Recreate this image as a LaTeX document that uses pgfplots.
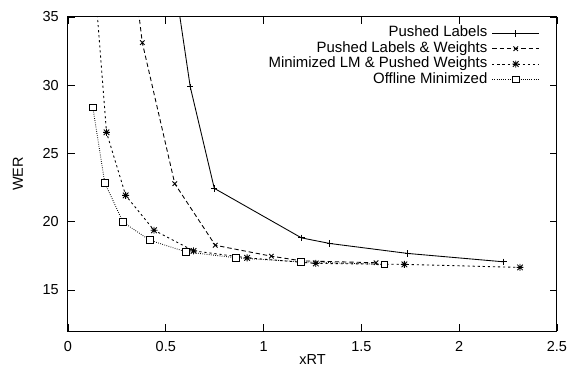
\documentclass[border=0pt]{standalone}
\usepackage{fontspec}
\setmainfont{Liberation Sans}
\usepackage{pgfplots}
\pgfplotsset{compat=1.18}
\pgfdeclareplotmark{gpstar}{%
 \pgfpathmoveto{\pgfqpoint{-\pgfplotmarksize}{0pt}}\pgfpathlineto{\pgfqpoint{\pgfplotmarksize}{0pt}}%
 \pgfpathmoveto{\pgfqpoint{0pt}{-\pgfplotmarksize}}\pgfpathlineto{\pgfqpoint{0pt}{\pgfplotmarksize}}%
 \pgfpathmoveto{\pgfqpoint{-.8\pgfplotmarksize}{-.8\pgfplotmarksize}}\pgfpathlineto{\pgfqpoint{.8\pgfplotmarksize}{.8\pgfplotmarksize}}%
 \pgfpathmoveto{\pgfqpoint{-.8\pgfplotmarksize}{.8\pgfplotmarksize}}\pgfpathlineto{\pgfqpoint{.8\pgfplotmarksize}{-.8\pgfplotmarksize}}%
 \pgfusepathqstroke}
\begin{document}
\begin{tikzpicture}
\begin{axis}[name=ax, scale only axis, width=337.4pt, height=216.7pt,
 xmin=0, xmax=2.5, ymin=12, ymax=35,
 xtick={0,0.5,1,1.5,2,2.5}, ytick={15,20,25,30,35},
 xticklabels={0,0.5,1,1.5,2,2.5}, yticklabels={15,20,25,30,35},
 /pgf/number format/assume math mode=true,
 major tick length=5pt, tick style={black, line width=0.6pt},
 axis line style={line width=0.7pt},
 xticklabel style={anchor=north, inner sep=0pt, yshift=-6.9pt},
 yticklabel style={anchor=east, inner sep=0pt, xshift=-6.2pt},
 xlabel={xRT}, ylabel={WER},
 every axis x label/.style={at={(rel axis cs:0.5,0)}, anchor=center, yshift=-19.7pt},
 every axis y label/.style={at={(rel axis cs:0,0.5)}, xshift=-34.5pt, anchor=center, rotate=90},
 legend plot pos=right, legend cell align=right,
 legend image code/.code={\draw[mark repeat=2,mark phase=2,#1] plot coordinates {(0cm,0cm) (0.57cm,0cm) (1.14cm,0cm)};},
 legend style={draw=none, fill=none, at={(rel axis cs:1,1)}, anchor=north east, xshift=-11.7pt, yshift=-6pt, inner sep=0pt, row sep=0.4pt, column sep=3pt,
   font=\fontsize{10.3}{12}\selectfont,
   nodes={text height=0.75em, text depth=0.25em, inner sep=0.1pt}},
 every axis plot/.append style={black, line width=0.6pt, mark options={solid}},
]
\addplot[solid, mark=+, mark size=2.2pt] coordinates {(0.5,42) (0.625,29.89) (0.748,22.45) (1.194,18.82) (1.339,18.41) (1.738,17.68) (2.226,17.07)};
\addlegendentry{Pushed Labels}
\addplot[dash pattern=on 3pt off 2pt, mark=x, mark size=2.2pt] coordinates {(0.33,39) (0.38,33.12) (0.546,22.79) (0.753,18.28) (1.04,17.48) (1.194,17.14) (1.575,17.0)};
\addlegendentry{Pushed Labels \& Weights}
\addplot[dash pattern=on 1.5pt off 2pt, mark=gpstar, mark size=2.4pt] coordinates {(0.14,37) (0.197,26.55) (0.295,21.93) (0.44,19.38) (0.642,17.87) (0.916,17.36) (1.267,16.95) (1.72,16.88) (2.311,16.66)};
\addlegendentry{Minimized LM \& Pushed Weights}
\addplot[dash pattern=on 0.5pt off 1pt, mark=square*, mark size=2.3pt, mark options={fill=white, solid}] coordinates {(0.127,28.38) (0.188,22.86) (0.281,19.98) (0.418,18.65) (0.603,17.8) (0.86,17.36) (1.19,17.07) (1.618,16.88)};
\addlegendentry{Offline Minimized}
\end{axis}
\path (ax.south west) ++(-46.9pt,-23.5pt);
\path (ax.north east) ++(8.3pt,11.7pt);
\end{tikzpicture}
\end{document}
